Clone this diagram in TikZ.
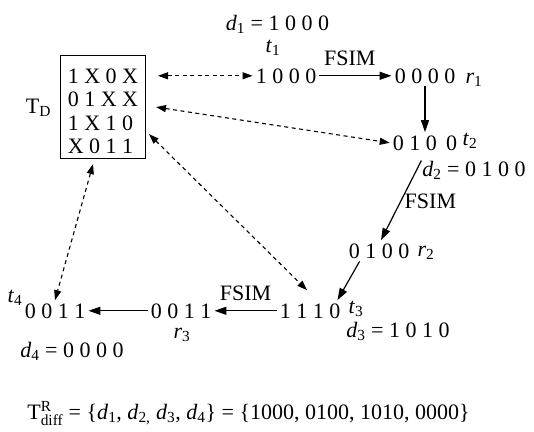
\documentclass[tikz,border=0pt]{standalone}
\usepackage{amsmath}
\usepackage{fontspec}
\setmainfont{Liberation Serif}
\usetikzlibrary{arrows.meta,calc}
\newcommand{\sv}[2]{\textit{#1}$_{\text{#2}}$}

\begin{document}
\begin{tikzpicture}[
  x=1pt, y=-1pt,
  font=\fontsize{22}{23.3}\selectfont,
  vec/.style={anchor=base, inner sep=3pt},
  lab/.style={anchor=base, inner sep=0pt},
  testset/.style={draw, line width=1pt, anchor=north west,
                  minimum width=85pt, minimum height=103pt,
                  inner xsep=6pt, inner ysep=5pt, align=left},
  sim/.style={-{Triangle[length=12pt,width=8pt]}, line width=1.2pt},
  link/.style={{Triangle[length=10pt,width=7pt]}-{Triangle[length=10pt,width=7pt]},
               line width=1.1pt, dash pattern=on 4pt off 3.5pt}
]
  \useasboundingbox (0,0) rectangle (534,431);

  % Deterministic test set.
  \node[lab] (tdlab) at (38.5,113) {T$_{\text{D}}$};
  \node[testset] (td) at (60,55)
    {\rule{0pt}{23pt}1 X 0 X\\0 1 X X\\1 X 1 0\\X 0 1 1};

  % Test vectors and responses.
  \node[vec] (t1) at (286,83) {1 0 0 0};
  \node[vec] (r1) at (425,83) {0 0 0 0};
  \node[vec] (t2) at (425,150) {0 1 0\, 0};
  \node[vec] (r2) at (379,258) {0 1 0 0};
  \node[vec] (t3) at (310,318) {1 1 1 0};
  \node[vec] (r3) at (181,318) {0 0 1 1};
  \node[vec] (t4) at (55,318) {0 0 1 1};

  \node[lab] (d1lab) at (277.5,30) {\sv{d}{1} = 1 0 0 0};
  \node[lab] (t1lab) at (273,52) {\sv{t}{1}};
  \node[lab] (r1lab) at (474,83) {\sv{r}{1}};
  \node[lab] (t2lab) at (470,145) {\sv{t}{2}};
  \node[lab] (d2lab) at (474,176) {\sv{d}{2} = 0 1 0 0};
  \node[lab] (r2lab) at (426,256) {\sv{r}{2}};
  \node[lab] (t3lab) at (356,313) {\sv{t}{3}};
  \node[lab] (d3lab) at (398,337) {\sv{d}{3} = 1 0 1 0};
  \node[lab] (r3lab) at (182,338) {\sv{r}{3}};
  \node[lab] (t4lab) at (15,302) {\sv{t}{4}};
  \node[lab] (d4lab) at (72,357) {\sv{d}{4} = 0 0 0 0};

  % Simulation steps.
  \draw[sim] (t1) -- node[above, yshift=6pt, pos=.42] (fsim1) {FSIM} (r1);
  \draw[sim] (r1) -- (t2);
  \draw[sim, shorten <=8pt] (t2.south) -- node[right, pos=.55] (fsim2) {FSIM}
    ($(r2.north)+(2,0)$);
  \draw[sim] ($(r2.south west)+(14,0)$) -- ($(t3.north east)+(-6,0)$);
  \draw[sim] (t3) -- node[above, yshift=6pt] (fsim3) {FSIM} (r3);
  \draw[sim] (r3) -- (t4);

  % Links to the test set.
  \draw[link] ($(td.east |- t1)+(12,0)$) -- (t1);
  \draw[link] ($(td.east)+(10,0)$) -- (t2.west);
  \draw[link] ($(td.south east)+(3,-25)$) -- ($(t3.north)+(-3,-10)$);
  \draw[link] ($(td.south)+(-10,5)$) -- (t4.north);

  % Result.
  \node[lab] (tdiff) at (248.5,419)
    {T$^{\text{R}}_{\text{diff}}$ = \{\sv{d}{1}, \sv{d}{2,} \sv{d}{3}, \sv{d}{4}\} = \{1000, 0100, 1010, 0000\}};
\end{tikzpicture}
\end{document}
